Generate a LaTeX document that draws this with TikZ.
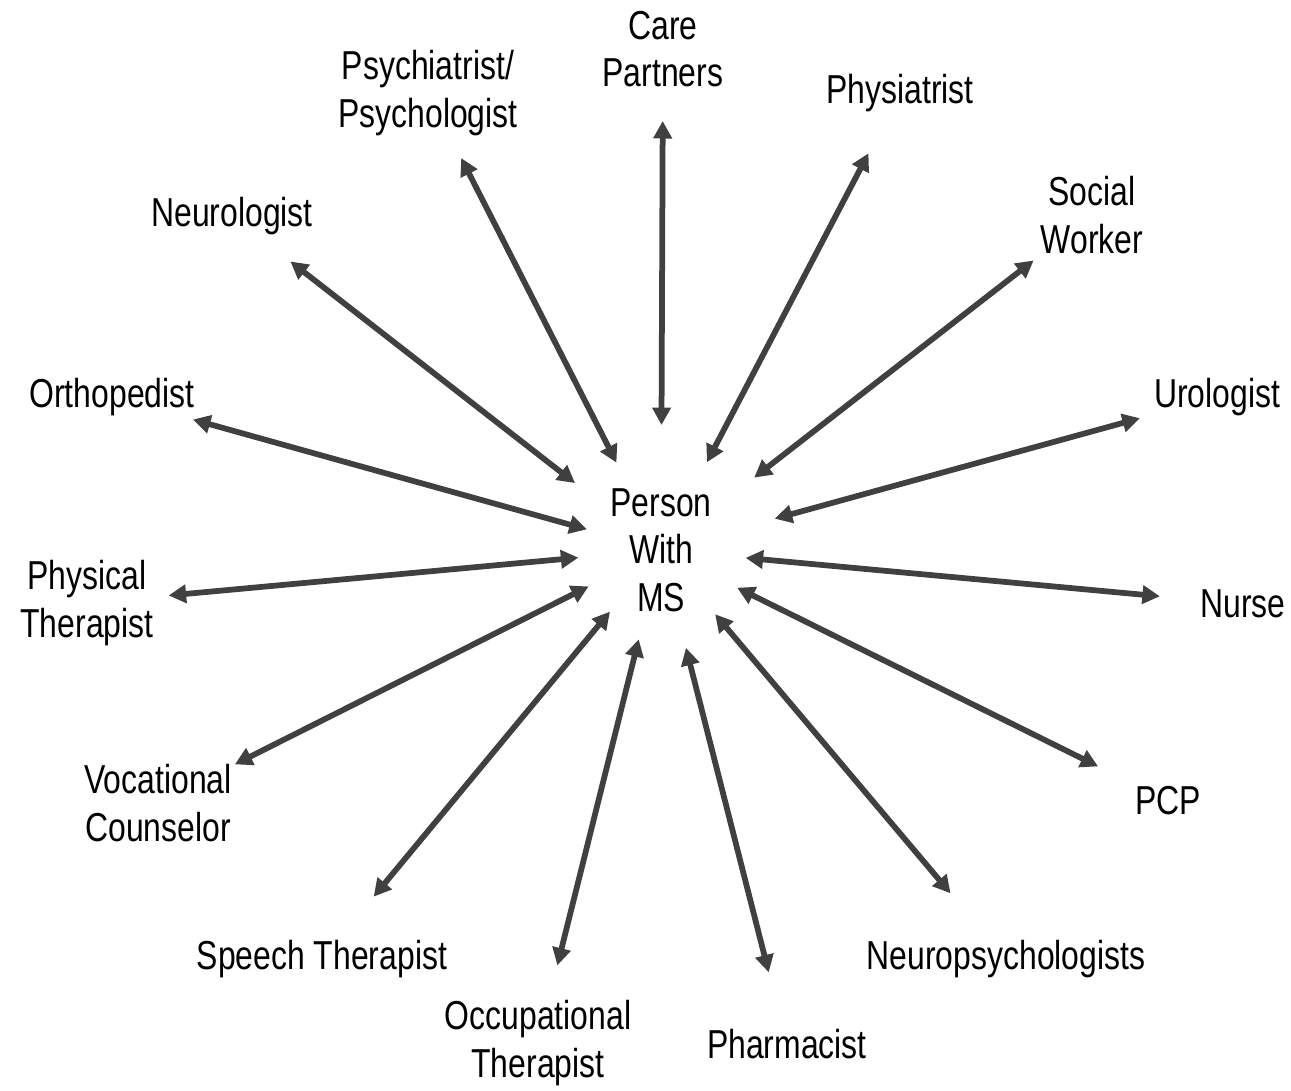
\documentclass[tikz,border=0pt]{standalone}
\usepackage{fontspec}
\setmainfont{Liberation Sans}[FakeStretch=0.79]
\usepackage{xcolor}
\usepackage{tikz}
\usetikzlibrary{
  arrows.meta,
  positioning
}
\definecolor{MSgray}{HTML}{404040}

\begin{document}
\begin{tikzpicture}[
      x=0.02cm, y=-0.02cm,
      >={Triangle[length=0.35cm, width=0.36cm]},
      font=\fontsize{23pt}{27pt}\selectfont,
      teambox/.style={
        align=center, inner sep=0pt, text=black
      },
      teamarr/.style 2 args={<->, draw=MSgray, fill=MSgray,
        line width=0.115cm, shorten <=#1, shorten >=#2}
    ]
    \useasboundingbox (0,0) rectangle (1291,1090);

    % Center
    \node[teambox] (ms) at (661,550) {Person\\With\\MS};

    % Team members, clockwise from the top
    \node[teambox] (care)   at (663,49)   {Care\\Partners};
    \node[teambox] (phys)   at (900,93)   {Physiatrist};
    \node[teambox] (social) at (1092,215) {Social\\Worker};
    \node[teambox] (uro)    at (1217,397) {Urologist};
    \node[teambox] (nurse)  at (1243,604) {Nurse};
    \node[teambox] (pcp)    at (1168,801) {PCP};
    \node[teambox] (npsy)   at (1006,959) {Neuropsychologists};
    \node[teambox] (pharm)  at (787,1044) {Pharmacist};
    \node[teambox] (occ)    at (538,1043) {Occupational\\Therapist};
    \node[teambox] (speech) at (322,959)  {Speech Therapist};
    \node[teambox] (voc)    at (158,803)  {Vocational\\Counselor};
    \node[teambox] (pt)     at (87,603)   {Physical\\Therapist};
    \node[teambox] (ortho)  at (112,397)  {Orthopedist};
    \node[teambox] (neuro)  at (232,216)  {Neurologist};
    \node[teambox] (psych)  at (428,93)   {Psychiatrist/\\Psychologist};

    % Spokes
    \draw[teamarr={2.50cm}{1.44cm}] (ms.center) -- (care.center);
    \draw[teamarr={1.98cm}{1.36cm}] (ms.center) -- (phys.center);
    \draw[teamarr={2.36cm}{1.48cm}] (ms.center) -- (social.center);
    \draw[teamarr={2.36cm}{1.60cm}] (ms.center) -- (uro.center);
    \draw[teamarr={1.70cm}{1.67cm}] (ms.center) -- (nurse.center);
    \draw[teamarr={1.70cm}{1.56cm}] (ms.center) -- (pcp.center);
    \draw[teamarr={1.68cm}{1.72cm}] (ms.center) -- (npsy.center);
    \draw[teamarr={2.02cm}{1.48cm}] (ms.center) -- (pharm.center);
    \draw[teamarr={1.84cm}{1.60cm}] (ms.center) -- (occ.center);
    \draw[teamarr={1.60cm}{1.62cm}] (ms.center) -- (speech.center);
    \draw[teamarr={1.62cm}{1.72cm}] (ms.center) -- (voc.center);
    \draw[teamarr={1.66cm}{1.64cm}] (ms.center) -- (pt.center);
    \draw[teamarr={1.54cm}{1.68cm}] (ms.center) -- (ortho.center);
    \draw[teamarr={2.18cm}{1.48cm}] (ms.center) -- (neuro.center);
    \draw[teamarr={1.96cm}{1.46cm}] (ms.center) -- (psych.center);
  \end{tikzpicture}
\end{document}
